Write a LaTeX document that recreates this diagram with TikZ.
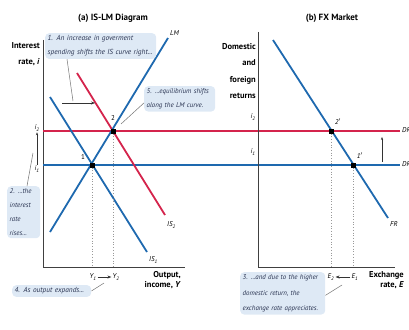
\documentclass[tikz,border=0pt]{standalone}
\usepackage{fontspec}
\setmainfont{PT Sans}
\usetikzlibrary{arrows.meta}

\definecolor{curveblue}{RGB}{30,105,175}
\definecolor{curvered}{RGB}{212,36,76}
\definecolor{notefill}{RGB}{222,233,245}
\definecolor{notetext}{RGB}{40,50,80}

\begin{document}
\begin{tikzpicture}[
  x=1pt, y=-1pt,
  font=\fontsize{7}{8}\selectfont,
  axis/.style={draw=black!75, line width=0.6pt},
  blueline/.style={draw=curveblue, line width=1.8pt},
  redline/.style={draw=curvered, line width=1.8pt},
  guide/.style={draw=black!40, dotted, line width=0.7pt},
  eqpt/.style={draw=none, fill=black, minimum size=5pt, inner sep=0pt},
  note/.style={fill=notefill, rounded corners=4pt, align=left, inner sep=2.5pt, font=\fontsize{6.9}{14}\selectfont\itshape, text=notetext},
  bignote/.style={note, font=\fontsize{7.3}{14}\selectfont\itshape},
  title/.style={font=\bfseries\fontsize{9}{11}\selectfont},
  axlabel/.style={font=\bfseries\fontsize{8.5}{16.5}\selectfont, align=right, inner sep=1pt},
  lbl/.style={font=\itshape\fontsize{7}{8}\selectfont, inner sep=1pt},
  pointer/.style={draw=black!55, line width=0.5pt},
  shiftarrow/.style={draw=black!80, line width=0.6pt, -{Stealth[length=4pt]}},
]
\useasboundingbox (0,0) rectangle (409,329);

% (a) IS-LM diagram
\node[title] (ttla) at (113,18) {(a) IS-LM Diagram};
\coordinate (ao) at (43,267);
\coordinate (atop) at (43,40);
\coordinate (aright) at (185,267);
\draw[axis] (atop) -- (ao) -- (aright);
\node[axlabel, anchor=north east] (ylbla) at (41,41) {Interest\\rate, \textit{i}};
\node[axlabel, anchor=north east, font=\bfseries\fontsize{8.5}{10}\selectfont] (xlbla) at (182,270) {Output,\\income, \textit{Y}};

% returns lines, carried across both panels
\coordinate (dr1a) at (43,165);  \coordinate (dr1b) at (400,165);
\coordinate (dr2a) at (43,131);  \coordinate (dr2b) at (400,131);
\draw[blueline] (dr1a) -- (dr1b);
\draw[redline] (dr2a) -- (dr2b);

% IS and LM curves
\coordinate (is1a) at (50,97);   \coordinate (is1b) at (147,252);
\coordinate (is2a) at (77,73);   \coordinate (is2b) at (165,215);
\coordinate (lma) at (50,232);   \coordinate (lmb) at (168,38);
\draw[blueline] (is1a) -- (is1b);
\draw[redline] (is2a) -- (is2b);
\draw[blueline] (lma) -- (lmb);
\node[lbl, anchor=west] (lmlbl) at (169,33) {LM};
\node[lbl, anchor=west] (is2lbl) at (166,225) {IS\textsubscript{2}};
\node[lbl, anchor=west] (is1lbl) at (148,260) {IS\textsubscript{1}};

% equilibria
\node[eqpt] (eq1) at (92,165) {};
\node[eqpt] (eq2) at (113,131) {};
\node[lbl, font=\fontsize{7}{8}\selectfont] at (83,157) {1};
\node[lbl, font=\fontsize{7}{8}\selectfont] at (113,118) {2};
\draw[guide] (eq1) -- (eq1 |- ao);
\draw[guide] (eq2) -- (eq2 |- ao);

% axis marks
\node[lbl] (ia2) at (37,128) {i\textsubscript{2}};
\node[lbl] (ia1) at (37,169) {i\textsubscript{1}};
\draw[shiftarrow, -{Stealth[length=3pt]}, line width=0.5pt] (ia1.north) -- (ia2.south);
\node[lbl] (y1) at (93,277) {Y\textsubscript{1}};
\node[lbl] (y2) at (116,277) {Y\textsubscript{2}};
\draw[shiftarrow] (y1.east) -- (y2.west);

% shift of IS
\coordinate (sa) at (62,103);
\coordinate (sb) at (95,103);
\draw[shiftarrow] (sa) -- (sb);

% notes
\node[bignote, anchor=north west, text width=106pt] (note1) at (45,33) {1. An increase in goverment\\spending shifts the IS curve right...};
\coordinate (p1) at (73,101);
\draw[pointer] ([xshift=22pt]note1.south west) -- (p1);
\node[note, anchor=north west, text width=28pt] (note2) at (7,186) {2. ...the\\interest\\rate\\rises...};
\coordinate (p2) at (33,153);
\draw[pointer] ([xshift=20pt]note2.north west) -- (p2);
\node[bignote, anchor=north west, text width=74pt] (note4) at (12,285) {4. As output expands...};
\coordinate (p4) at (104,283);
\draw[pointer] (note4.east) -- (p4);
\node[note, anchor=north west, text width=66pt] (note5) at (144,86) {5. ...equilibrium shifts\\along the LM curve.};
\coordinate (p5) at (121,124);
\draw[pointer] ([yshift=-4pt]note5.west) -- (p5);

% (b) FX market
\node[title] (ttlb) at (332,18) {(b) FX Market};
\coordinate (bo) at (258,267);
\coordinate (btop) at (258,32);
\coordinate (bright) at (395,267);
\draw[axis] (btop) -- (bo) -- (bright);
\node[axlabel, anchor=north east] (ylblb) at (257,42) {Domestic\\and\\foreign\\returns};
\node[axlabel, anchor=north east, font=\bfseries\fontsize{8.5}{10}\selectfont] (xlblb) at (405,270) {Exchange\\rate, \textit{E}};
\node[lbl] (ib2) at (253,117) {i\textsubscript{2}};
\node[lbl] (ib1) at (253,152) {i\textsubscript{1}};

\coordinate (fra) at (273,40);   \coordinate (frb) at (388,218);
\draw[blueline] (fra) -- (frb);
\node[lbl, anchor=north west] (frlbl) at (389,220) {FR};
\node[lbl, anchor=west] (dr2lbl) at (401,131) {DR\textsubscript{2}};
\node[lbl, anchor=west] (dr1lbl) at (401,165) {DR\textsubscript{1}};

\node[eqpt] (eq2p) at (331,131) {};
\node[eqpt] (eq1p) at (353,165) {};
\node[lbl] at (338,122) {2$'$};
\node[lbl] at (360,156) {1$'$};
\draw[guide] (eq2p) -- (eq2p |- bo);
\draw[guide] (eq1p) -- (eq1p |- bo);

\coordinate (ua) at (382,162);
\coordinate (ub) at (382,137);
\draw[shiftarrow, -{Stealth[length=3pt]}, line width=0.5pt] (ua) -- (ub);

\node[lbl] (e2) at (331,277) {E\textsubscript{2}};
\node[lbl] (e1) at (355,277) {E\textsubscript{1}};
\draw[shiftarrow] (e1.west) -- (e2.east);

\node[note, anchor=north west, text width=80pt, font=\fontsize{6.9}{15.5}\selectfont\itshape] (note3) at (240,272) {3. ...and due to the higher\\domestic return, the\\exchange rate appreciates.};
\coordinate (p3) at (342,285);
\draw[pointer] ([yshift=-2pt]note3.east) -- (p3);
\end{tikzpicture}
\end{document}
